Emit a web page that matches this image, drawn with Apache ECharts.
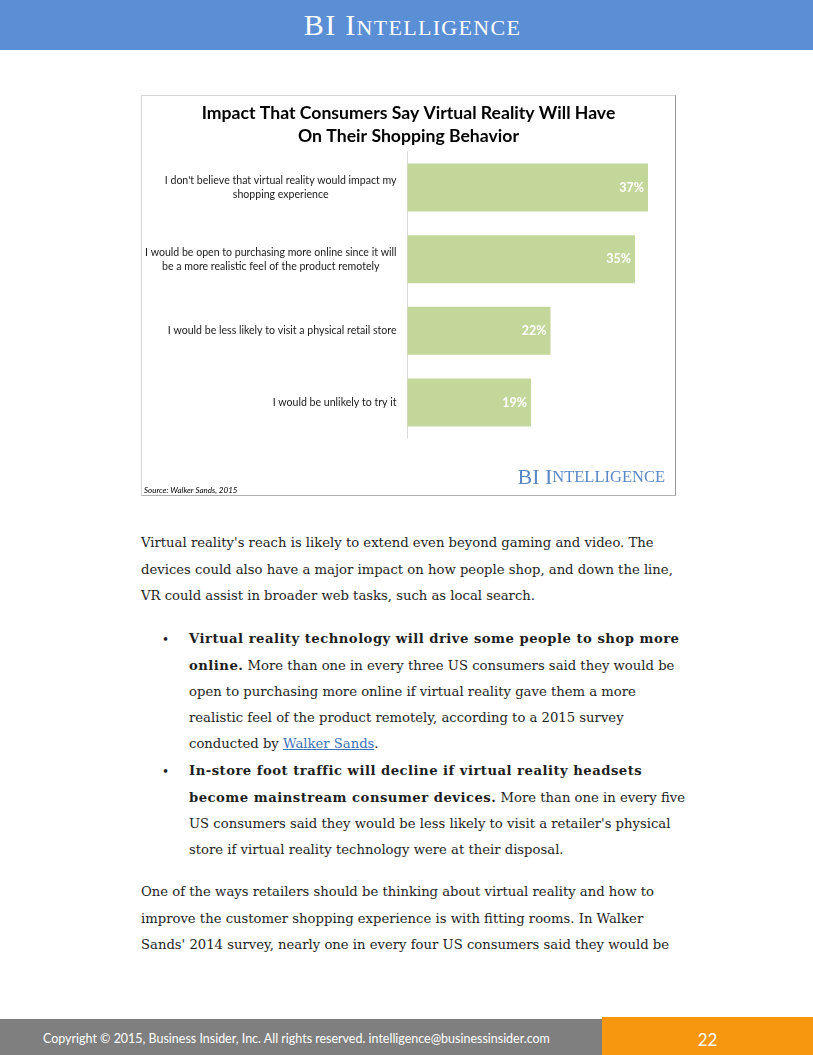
<!DOCTYPE html>
<html><head><meta charset="utf-8">
<script src="https://cdn.jsdelivr.net/npm/echarts/dist/echarts.min.js"></script>
<style>
body{margin:0;background:#fff;}
#page{position:relative;width:813px;height:1055px;background:#fff;overflow:hidden;}
#hdr{position:absolute;left:0;top:0;width:813px;height:50px;background:#5a8ed5;}
#hdrtxt{position:absolute;left:6px;width:813px;top:9px;text-align:center;color:#fff;font-family:"Liberation Serif";letter-spacing:1.3px;white-space:nowrap;line-height:32px;}
#hdrtxt .big{font-size:30px;}
#hdrtxt .sm{font-size:22px;}
#box{position:absolute;left:141px;top:95px;width:533px;height:399px;border:1px solid #d6d6d6;border-right-color:#9a9a9a;border-bottom-color:#b0b0b0;}
#chart{position:absolute;left:0;top:0;width:533px;height:399px;}
.txt{position:absolute;font-family:"DejaVu Serif";color:#1e1e1e;white-space:nowrap;line-height:26.2px;}
.txt a{color:#3b73b9;text-decoration:underline;}
.bul{position:absolute;font-family:"DejaVu Serif";color:#1e1e1e;font-size:12px;}
#ftr{position:absolute;left:0;top:1019px;width:602px;height:36px;background:#7f7f7f;}
#ftrtxt{position:absolute;left:43px;top:1031px;color:#fff;font-family:Lato;white-space:nowrap;}
#org{position:absolute;left:602px;top:1017px;width:211px;height:38px;background:#f7970f;}
#pnum{position:absolute;left:602px;width:211px;top:1029px;text-align:center;color:#fff;font-family:Lato;font-size:17px;}
#meas,#measb{position:absolute;left:-2000px;top:0;white-space:nowrap;font-family:"DejaVu Serif";}
#measb{top:40px;font-weight:bold;}
</style></head>
<body>
<div id="page">
  <div id="hdr"></div>
  <div id="hdrtxt"><span class="big">BI I</span><span class="sm">NTELLIGENCE</span></div>
  <div id="box"><div id="chart"></div></div>

  <div class="txt" id="p1" data-base="548">Virtual reality's reach is likely to extend even beyond gaming and video. The<br>devices could also have a major impact on how people shop, and down the line,<br>VR could assist in broader web tasks, such as local search.</div>

  <div class="bul" style="left:162px;top:633px">&#8226;</div>
  <div class="txt" id="b1" data-base="644" style="left:189px"><b>Virtual reality technology will drive some people to shop more</b><br><b>online.</b> More than one in every three US consumers said they would be<br>open to purchasing more online if virtual reality gave them a more<br>realistic feel of the product remotely, according to a 2015 survey<br>conducted by <a>Walker Sands</a>.</div>

  <div class="bul" style="left:162px;top:765px">&#8226;</div>
  <div class="txt" id="b2" data-base="776" style="left:189px"><b>In-store foot traffic will decline if virtual reality headsets</b><br><b>become mainstream consumer devices.</b> More than one in every five<br>US consumers said they would be less likely to visit a retailer's physical<br>store if virtual reality technology were at their disposal.</div>

  <div class="txt" id="p2" data-base="897">One of the ways retailers should be thinking about virtual reality and how to<br>improve the customer shopping experience is with fitting rooms. In Walker<br>Sands' 2014 survey, nearly one in every four US consumers said they would be</div>

  <div id="ftr"></div>
  <div id="org"></div>
  <div id="ftrtxt">Copyright © 2015, Business Insider, Inc. All rights reserved. intelligence@businessinsider.com</div>
  <div id="pnum">22</div>
  <span id="meas">Virtual reality's reach is likely to extend even beyond gaming and video. The</span>
  <span id="measb">Virtual reality technology will drive some people to shop more</span>
</div>
<script>
// ---- chart data ----
const categories = [
  "I don't believe that virtual reality would impact my\nshopping experience",
  "I would be open to purchasing more online since it will\nbe a more realistic feel of the product remotely",
  "I would be less likely to visit a physical retail store",
  "I would be unlikely to try it"
];
const values = [37, 35, 22, 19];
const titleLines = ["Impact That Consumers Say Virtual Reality Will Have", "On Their Shopping Behavior"];
const sourceText = "Source: Walker Sands, 2015";

// ---- body text sizing ----
const meas = document.getElementById('meas');
meas.style.fontSize = '20px';
const bodySize = 20 * 513 / meas.getBoundingClientRect().width;
const measb = document.getElementById('measb');
measb.style.fontSize = bodySize + 'px';
const bw = measb.getBoundingClientRect().width;
const boldLS = (490 - bw) / (measb.textContent.length - 1);
['p1','b1','b2','p2'].forEach(id => {
  const el = document.getElementById(id);
  el.style.fontSize = bodySize + 'px';
  const base = +el.dataset.base;
  el.style.top = (base - (13.1 + 0.346 * bodySize)) + 'px';
  if (id === 'p1' || id === 'p2') el.style.left = '141px';
  el.querySelectorAll('b').forEach(b => b.style.letterSpacing = boldLS + 'px');
});
const ft = document.getElementById('ftrtxt');
ft.style.fontSize = '20px';
ft.style.fontSize = (20 * 507 / ft.getBoundingClientRect().width) + 'px';

// ---- chart font sizing ----
const cv = document.createElement('canvas').getContext('2d');
function fit(text, weight, family, target) {
  cv.font = weight + ' 100px "' + family + '"';
  return 100 * target / cv.measureText(text).width;
}
const titleSize = fit(titleLines[0], 'bold', 'Lato', 414);
const labelSize = fit(categories[2], 'normal', 'Lato', 229);

const chart = echarts.init(document.getElementById('chart'), null, {renderer: 'canvas'});
chart.setOption({
  animation: false,
  title: [
    {text: titleLines.join('\n'), left: 'center', top: 1,
     textStyle: {fontFamily: 'Lato', fontWeight: 'bold', fontSize: titleSize, lineHeight: 23, color: '#000'}},
    {text: '{a|BI I}{b|NTELLIGENCE}', right: 10, bottom: 6, padding: 0,
     textStyle: {fontWeight: 'normal', rich: {
       a: {fontFamily: 'Liberation Serif', fontWeight: 'normal', fontSize: 22, color: '#5a88c6'},
       b: {fontFamily: 'Liberation Serif', fontWeight: 'normal', fontSize: 16.5, color: '#5a88c6'}}}},
    {text: sourceText, left: 2, bottom: 1, padding: 0,
     textStyle: {fontFamily: 'Lato', fontStyle: 'italic', fontWeight: 'normal', fontSize: 8, color: '#000'}}
  ],
  grid: {left: 265, top: 55.7, width: 260.5, height: 286.6},
  xAxis: {type: 'value', min: 0, max: 40, show: false},
  yAxis: {
    type: 'category', data: categories, inverse: true,
    axisLine: {show: true, lineStyle: {color: '#d9d9d9', width: 1}},
    axisTick: {show: false},
    axisLabel: {
      margin: 11,
      formatter: v => v.split('\n').map(l => '{c|' + l + '}').join('\n'),
      rich: {c: {align: 'center', fontFamily: 'Lato', fontSize: labelSize, lineHeight: 14, color: '#1a1a1a'}}
    }
  },
  series: [{
    type: 'bar', data: values, barCategoryGap: '33%',
    itemStyle: {color: '#c4d79b'},
    label: {show: true, position: 'insideRight', distance: 4, formatter: '{c}%',
            color: '#fff', fontFamily: 'Lato', fontWeight: 'bold', fontSize: 12.5}
  }]
});
</script>
</body></html>
